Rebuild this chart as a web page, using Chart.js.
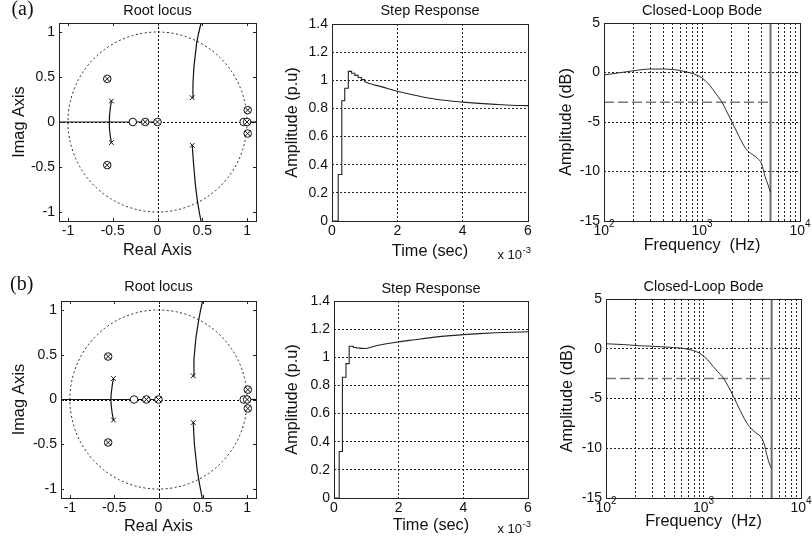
<!DOCTYPE html>
<html><head><meta charset="utf-8">
<script src="https://cdn.jsdelivr.net/npm/chart.js@4.4.1/dist/chart.umd.min.js"></script>
<style>
html,body{margin:0;padding:0;background:#fff;width:812px;height:548px;overflow:hidden;position:relative}
canvas{position:absolute}
</style></head><body>
<canvas id="a1"></canvas><canvas id="a2"></canvas><canvas id="a3"></canvas>
<canvas id="b1"></canvas><canvas id="b2"></canvas><canvas id="b3"></canvas>
<script>
// ================= DATA =================
// tick values
const rlTicks = [-1, -0.5, 0, 0.5, 1];
const stepTimeTicksMs = [0, 2, 4, 6];
const stepAmpTicks = [0, 0.2, 0.4, 0.6, 0.8, 1, 1.2, 1.4];
const bodeFreqGrid = [100,200,300,400,500,600,700,800,900,1000,2000,3000,4000,5000,6000,7000,8000,9000,10000];
const bodeDecades = [100, 1000, 10000];
const bodeDbTicks = [-15, -10, -5, 0, 5];

// ---- Root locus (a) ----
const rlA_poleX = [-0.515, -0.515, 0.388, 0.388];
const rlA_poleY = [0.233, -0.229, 0.270, -0.259];
const rlA_zeroX = [-0.276, 0.962];
const rlA_zeroY = [0, 0];
const rlA_pzX = [-0.561, -0.561, -0.137, 0, 1.0, 1.007, 1.007];
const rlA_pzY = [0.479, -0.479, 0, 0, 0, 0.132, -0.128];
const rlA_br1X = [-0.515, -0.528, -0.536, -0.538, -0.536, -0.528, -0.515];
const rlA_br1Y = [0.233, 0.15, 0.07, 0, -0.07, -0.15, -0.229];
const rlA_br2X = [0.388, 0.396, 0.407, 0.437, 0.460, 0.486];
const rlA_br2Y = [0.270, 0.430, 0.616, 0.877, 0.989, 1.100];
const rlA_br3X = [0.388, 0.400, 0.422, 0.445, 0.470, 0.486];
const rlA_br3Y = [-0.259, -0.430, -0.687, -0.873, -1.020, -1.100];
const rlA_realX = [-1.1, 0];
const rlA_real2X = [0.962, 1.1];

// ---- Root locus (b) ----
const rlB_poleX = [-0.508, -0.508, 0.392, 0.392];
const rlB_poleY = [0.234, -0.230, 0.264, -0.257];
const rlB_zeroX = [-0.276, 0.962];
const rlB_zeroY = [0, 0];
const rlB_pzX = [-0.568, -0.568, -0.137, 0, 1.0, 1.008, 1.008];
const rlB_pzY = [0.480, -0.480, 0, 0, 0, 0.110, -0.100];
const rlB_br1X = [-0.508, -0.523, -0.533, -0.538, -0.533, -0.523, -0.508];
const rlB_br1Y = [0.234, 0.15, 0.07, 0, -0.07, -0.15, -0.230];
const rlB_br2X = [0.392, 0.400, 0.422, 0.452, 0.475, 0.497];
const rlB_br2Y = [0.264, 0.450, 0.690, 0.877, 1.000, 1.100];
const rlB_br3X = [0.392, 0.405, 0.437, 0.463, 0.493];
const rlB_br3Y = [-0.257, -0.500, -0.796, -0.944, -1.100];
const rlB_realX = [-1.1, 0];
const rlB_real2X = [0.962, 1.1];

// ---- Step response (a) ---- time in ms
const stepA_stairT = [0, 0.19, 0.30, 0.39, 0.50, 0.6, 0.7, 0.8, 0.9, 1.0];
const stepA_stairY = [0, 0.33, 0.855, 0.943, 1.063, 1.05, 1.035, 1.02, 1.005, 0.99];
const stepA_tailT = [1.0, 1.2, 1.5, 2.0, 2.5, 3.0, 3.5, 4.0, 4.5, 5.0, 5.5, 6.0];
const stepA_tailY = [0.99, 0.973, 0.955, 0.922, 0.895, 0.872, 0.856, 0.845, 0.836, 0.829, 0.823, 0.820];

// ---- Step response (b) ----
const stepB_stairT = [0, 0.16, 0.26, 0.37, 0.47, 0.6, 0.7, 0.8, 0.9, 1.0];
const stepB_stairY = [0, 0.33, 0.858, 0.955, 1.078, 1.070, 1.066, 1.063, 1.062, 1.063];
const stepB_tailT = [1.0, 1.42, 2.0, 2.5, 3.0, 3.5, 4.0, 4.5, 5.0, 5.5, 6.0];
const stepB_tailY = [1.063, 1.087, 1.110, 1.125, 1.140, 1.152, 1.161, 1.168, 1.174, 1.178, 1.181];

// ---- Closed-loop Bode (a) ----
const bodeA_f  = [100, 150, 200, 300, 400, 500, 600, 700, 800, 900, 1000, 1200, 1400, 1600, 1800, 2000, 2400, 2850, 3300, 3700, 4050, 4400, 4700, 5000];
const bodeA_db = [-0.25, 0.0, 0.18, 0.35, 0.35, 0.3, 0.2, 0.05, -0.1, -0.3, -0.55, -1.3, -2.2, -3.0, -4.0, -4.9, -6.5, -7.8, -8.3, -8.7, -9.2, -10.5, -11.3, -12.1];
// ---- Closed-loop Bode (b) ----
const bodeB_f  = [100, 150, 224, 300, 400, 493, 600, 731, 850, 962, 1100, 1260, 1400, 1600, 1800, 2030, 2377, 2886, 3400, 3970, 4200, 4470, 4800, 5000];
const bodeB_db = [0.5, 0.42, 0.3, 0.25, 0.18, 0.12, 0.05, -0.1, -0.3, -0.6, -1.1, -1.8, -2.3, -2.95, -3.8, -4.8, -6.2, -7.7, -8.4, -9.0, -9.6, -10.7, -11.7, -12.0];
// reference lines
const halfPowerF = [100, 4800];
const halfPowerDb = [-3, -3];
const nyquistF = [5000, 5000];
const nyquistDb = [-15, 5];

// ================= RENDERING =================
const FONT = "'Liberation Sans', Arial, Helvetica, sans-serif";
Chart.defaults.font.family = FONT;
Chart.defaults.color = '#111';
const INK = '#222';

const pts = (xs, ys) => xs.map((x, i) => ({x: x, y: ys[i]}));
const fmt = v => String(Math.round(v * 100) / 100);

const PANELS = {
  a1: {l: 59, t: 23, r: 256, b: 221},
  a2: {l: 332, t: 24, r: 528, b: 221},
  a3: {l: 604, t: 23, r: 800, b: 221},
  b1: {l: 61, t: 301, r: 256, b: 498},
  b2: {l: 334, t: 301, r: 528, b: 498},
  b3: {l: 606, t: 299, r: 801, b: 498}
};
const PADL = 60, PADT = 25, PADR = 14, PADB = 45;

function mount(id) {
  const p = PANELS[id];
  const c = document.getElementById(id);
  c.width = p.r - p.l + PADL + PADR;
  c.height = p.b - p.t + PADT + PADB;
  c.style.left = (p.l - PADL) + 'px';
  c.style.top = (p.t - PADT) + 'px';
  c.style.width = c.width + 'px';
  c.style.height = c.height + 'px';
  return c;
}

const decor = {
  id: 'decor',
  beforeDatasetsDraw(chart, args, o) {
    if (!o.unitCircle) return;
    const {ctx, chartArea: ca, scales: {x, y}} = chart;
    const cx = x.getPixelForValue(0), cy = y.getPixelForValue(0);
    const rx = x.getPixelForValue(1) - cx, ry = cy - y.getPixelForValue(1);
    ctx.save();
    ctx.strokeStyle = '#000'; ctx.lineWidth = 1;
    // zero axes (dotted)
    ctx.setLineDash([2, 2]);
    const zx = Math.round(cx) + 0.5, zy = Math.round(cy) + 0.5;
    ctx.beginPath();
    ctx.moveTo(zx, ca.top); ctx.lineTo(zx, ca.bottom);
    ctx.moveTo(ca.left, zy); ctx.lineTo(ca.right, zy);
    ctx.stroke();
    // unit circle (dotted)
    ctx.setLineDash([2, 2.5]); ctx.strokeStyle = INK;
    ctx.beginPath(); ctx.ellipse(cx, cy, rx, ry, 0, 0, Math.PI * 2); ctx.stroke();
    ctx.restore();
  },
  afterDraw(chart, args, o) {
    const {ctx, chartArea: ca, scales: {x, y}} = chart;
    const cx = (ca.left + ca.right) / 2, cy = (ca.top + ca.bottom) / 2;
    ctx.save();
    ctx.setLineDash([]);
    if (o.innerTicks) {
      ctx.strokeStyle = INK; ctx.lineWidth = 1; ctx.beginPath();
      x.ticks.forEach(t => {
        const px = Math.round(x.getPixelForValue(t.value)) + 0.5;
        ctx.moveTo(px, ca.bottom); ctx.lineTo(px, ca.bottom - 3);
        ctx.moveTo(px, ca.top); ctx.lineTo(px, ca.top + 3);
      });
      y.ticks.forEach(t => {
        const py = Math.round(y.getPixelForValue(t.value)) + 0.5;
        ctx.moveTo(ca.left, py); ctx.lineTo(ca.left + 3, py);
        ctx.moveTo(ca.right, py); ctx.lineTo(ca.right - 3, py);
      });
      ctx.stroke();
    }
    ctx.strokeStyle = INK; ctx.lineWidth = 1;
    ctx.strokeRect(ca.left + 0.5, ca.top + 0.5, ca.width, ca.height);

    ctx.fillStyle = '#111'; ctx.textAlign = 'center'; ctx.textBaseline = 'middle';
    ctx.font = '14.5px ' + FONT;
    ctx.fillText(o.title, cx, ca.top - o.titleOff);
    ctx.font = '16.3px ' + FONT;
    ctx.fillText(o.xTitle, cx, ca.bottom + o.xTitleOff);
    ctx.save();
    ctx.translate(ca.left - o.yTitleOff, cy); ctx.rotate(-Math.PI / 2);
    ctx.fillText(o.yTitle, 0, 0);
    ctx.restore();
    if (o.panel) {
      ctx.font = "20px 'Liberation Serif', 'Times New Roman', serif";
      ctx.fillText(o.panel, ca.left + o.panelDx, ca.top + o.panelDy);
    }
    if (o.sciDy) {
      ctx.textAlign = 'left'; ctx.textBaseline = 'alphabetic';
      ctx.font = '13px ' + FONT; const w1 = ctx.measureText('x 10').width;
      ctx.font = '9.5px ' + FONT; const w2 = ctx.measureText('-3').width;
      const x0 = ca.right + 3 - w1 - w2 - 0.5, y0 = ca.bottom + o.sciDy;
      ctx.font = '13px ' + FONT; ctx.fillText('x 10', x0, y0);
      ctx.font = '9.5px ' + FONT; ctx.fillText('-3', x0 + w1 + 0.5, y0 - 6.5);
    }
    if (o.decades) {
      ctx.textAlign = 'left'; ctx.textBaseline = 'alphabetic';
      o.decades.forEach(v => {
        const px = x.getPixelForValue(v);
        const e = String(Math.round(Math.log10(v)));
        ctx.font = '14px ' + FONT; const w1 = ctx.measureText('10').width;
        ctx.font = '10px ' + FONT; const w2 = ctx.measureText(e).width;
        const x0 = px - (w1 + w2) / 2;
        ctx.font = '14px ' + FONT; ctx.fillText('10', x0, ca.bottom + 14.2);
        ctx.font = '10px ' + FONT; ctx.fillText(e, x0 + w1, ca.bottom + 5.8);
      });
    }
    ctx.restore();
  }
};

function fixedAxes(xOpts, yOpts) {
  return {
    x: Object.assign({
      afterFit: s => { s.height = PADB; },
      grid: {drawTicks: false, color: INK, lineWidth: 1},
      border: {display: false, dash: [2, 2]},
      ticks: {padding: 2, font: {size: 14}, color: '#111', maxRotation: 0, autoSkip: false}
    }, xOpts),
    y: Object.assign({
      afterFit: s => { s.width = PADL; },
      grid: {drawTicks: false, color: INK, lineWidth: 1},
      border: {display: false, dash: [2, 2]},
      ticks: {padding: 4, font: {size: 14}, color: '#111', autoSkip: false}
    }, yOpts)
  };
}

function baseOptions(scales, decorOpts) {
  return {
    responsive: false, animation: false, devicePixelRatio: 1,
    layout: {padding: {left: 0, top: PADT, right: PADR, bottom: 0}},
    plugins: {legend: {display: false}, tooltip: {enabled: false}, decor: decorOpts},
    elements: {point: {radius: 0, hoverRadius: 0}},
    scales: scales
  };
}

function rootLocus(id, d, decorOpts) {
  const line = (xs, ys) => ({data: pts(xs, ys), showLine: true, borderColor: '#111', borderWidth: 1.2, pointRadius: 0});
  const datasets = [
    {data: pts(d.pzX, d.pzY), pointStyle: 'crossRot', pointRadius: 3.8, borderColor: '#111', borderWidth: 1, backgroundColor: '#fff'},
    {data: pts(d.pzX, d.pzY), pointStyle: 'circle', pointRadius: 3.8, borderColor: '#111', borderWidth: 1, backgroundColor: '#fff'},
    {data: pts(d.poleX, d.poleY), pointStyle: 'crossRot', pointRadius: 3.3, borderColor: '#111', borderWidth: 1},
    {data: pts(d.zeroX, d.zeroY), pointStyle: 'circle', pointRadius: 3.8, borderColor: '#111', borderWidth: 1, backgroundColor: '#fff'},
    line(d.br1X, d.br1Y), line(d.br2X, d.br2Y), line(d.br3X, d.br3Y),
    line(d.realX, d.realX.map(() => 0)), line(d.real2X, d.real2X.map(() => 0))
  ];
  const scales = fixedAxes(
    {type: 'linear', min: -1.1, max: 1.1, afterBuildTicks: s => { s.ticks = rlTicks.map(v => ({value: v})); },
     grid: {display: false, drawTicks: false}},
    {type: 'linear', min: -1.1, max: 1.1, afterBuildTicks: s => { s.ticks = rlTicks.map(v => ({value: v})); },
     grid: {display: false, drawTicks: false}}
  );
  scales.x.ticks.callback = v => fmt(v);
  scales.y.ticks.callback = v => fmt(v);
  new Chart(mount(id), {type: 'scatter', data: {datasets}, options: baseOptions(scales, Object.assign({unitCircle: true, innerTicks: true}, decorOpts)), plugins: [decor]});
}

function stepResp(id, stT, stY, tlT, tlY, decorOpts) {
  const datasets = [
    {data: pts(stT.map(t => t / 1000), stY), showLine: true, stepped: 'before', borderColor: INK, borderWidth: 1.1, pointRadius: 0},
    {data: pts(tlT.map(t => t / 1000), tlY), showLine: true, cubicInterpolationMode: 'monotone', borderColor: INK, borderWidth: 1.1, pointRadius: 0}
  ];
  const scales = fixedAxes(
    {type: 'linear', min: 0, max: 0.006, afterBuildTicks: s => { s.ticks = stepTimeTicksMs.map(v => ({value: v / 1000})); }},
    {type: 'linear', min: 0, max: 1.4, afterBuildTicks: s => { s.ticks = stepAmpTicks.map(v => ({value: v})); }}
  );
  scales.x.ticks.callback = v => String(Math.round(v * 1000));
  scales.y.ticks.callback = v => fmt(v);
  new Chart(mount(id), {type: 'scatter', data: {datasets}, options: baseOptions(scales, decorOpts), plugins: [decor]});
}

function bode(id, f, db, decorOpts) {
  const datasets = [
    {data: pts(f, db), showLine: true, cubicInterpolationMode: 'monotone', borderColor: '#2a2a2a', borderWidth: 1, pointRadius: 0},
    {data: pts(halfPowerF, halfPowerDb), showLine: true, borderColor: '#7a7a7a', borderWidth: 1.5, borderDash: [10, 4], pointRadius: 0},
    {data: pts(nyquistF, nyquistDb), showLine: true, borderColor: '#6e6e6e', borderWidth: 2, pointRadius: 0}
  ];
  const scales = fixedAxes(
    {type: 'logarithmic', min: 100, max: 10000, afterBuildTicks: s => { s.ticks = bodeFreqGrid.map(v => ({value: v})); }},
    {type: 'linear', min: -15, max: 5, afterBuildTicks: s => { s.ticks = bodeDbTicks.map(v => ({value: v})); }}
  );
  scales.x.ticks.callback = () => '';
  scales.y.ticks.callback = v => String(v);
  new Chart(mount(id), {type: 'scatter', data: {datasets}, options: baseOptions(scales, Object.assign({decades: bodeDecades}, decorOpts)), plugins: [decor]});
}

rootLocus('a1', {poleX: rlA_poleX, poleY: rlA_poleY, zeroX: rlA_zeroX, zeroY: rlA_zeroY, pzX: rlA_pzX, pzY: rlA_pzY,
  br1X: rlA_br1X, br1Y: rlA_br1Y, br2X: rlA_br2X, br2Y: rlA_br2Y, br3X: rlA_br3X, br3Y: rlA_br3Y, realX: rlA_realX, real2X: rlA_real2X},
  {title: 'Root locus', xTitle: 'Real Axis', yTitle: 'Imag Axis', titleOff: 12.5, xTitleOff: 30, yTitleOff: 39, panel: '(a)', panelDx: -36.5, panelDy: -13.3});
stepResp('a2', stepA_stairT, stepA_stairY, stepA_tailT, stepA_tailY,
  {title: 'Step Response', xTitle: 'Time (sec)', yTitle: 'Amplitude (p.u)', titleOff: 13, xTitleOff: 31, yTitleOff: 39.5, sciDy: 38.3});
bode('a3', bodeA_f, bodeA_db,
  {title: 'Closed-Loop Bode', xTitle: 'Frequency  (Hz)', yTitle: 'Amplitude (dB)', titleOff: 12.5, xTitleOff: 24.5, yTitleOff: 37.3});

rootLocus('b1', {poleX: rlB_poleX, poleY: rlB_poleY, zeroX: rlB_zeroX, zeroY: rlB_zeroY, pzX: rlB_pzX, pzY: rlB_pzY,
  br1X: rlB_br1X, br1Y: rlB_br1Y, br2X: rlB_br2X, br2Y: rlB_br2Y, br3X: rlB_br3X, br3Y: rlB_br3Y, realX: rlB_realX, real2X: rlB_real2X},
  {title: 'Root locus', xTitle: 'Real Axis', yTitle: 'Imag Axis', titleOff: 14, xTitleOff: 29, yTitleOff: 41, panel: '(b)', panelDx: -39.3, panelDy: -16});
stepResp('b2', stepB_stairT, stepB_stairY, stepB_tailT, stepB_tailY,
  {title: 'Step Response', xTitle: 'Time (sec)', yTitle: 'Amplitude (p.u)', titleOff: 12.3, xTitleOff: 27.5, yTitleOff: 41, sciDy: 35.3});
bode('b3', bodeB_f, bodeB_db,
  {title: 'Closed-Loop Bode', xTitle: 'Frequency  (Hz)', yTitle: 'Amplitude (dB)', titleOff: 12, xTitleOff: 24, yTitleOff: 38});
</script>
</body></html>
